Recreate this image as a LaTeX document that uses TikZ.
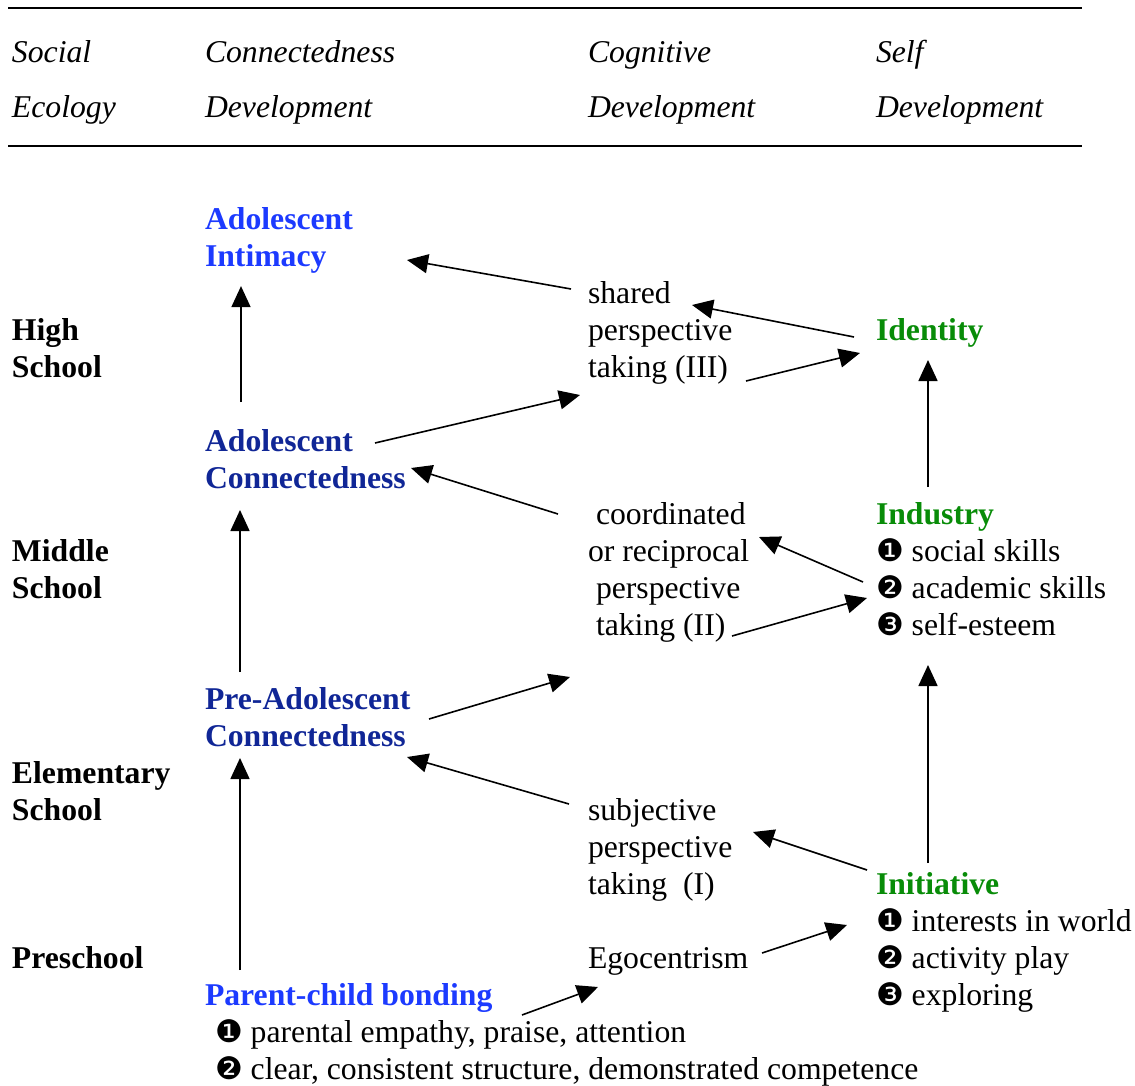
\documentclass[tikz,border=0pt]{standalone}
\usepackage{fontspec}
\setmainfont{Liberation Serif}
\newfontfamily\dingfam{DejaVu Sans}
\usetikzlibrary{calc,arrows.meta}
\definecolor{blueA}{RGB}{28,58,255}
\definecolor{blueB}{RGB}{16,38,150}
\definecolor{greenA}{RGB}{8,140,8}
\newcommand\bul[1]{{\dingfam\fontsize{31}{31}\selectfont #1}}
\tikzset{
  txt/.style={anchor=north west, inner sep=0pt, outer sep=0pt, align=left,
    font=\fontsize{31.7}{37}\selectfont},
  hdr/.style={txt, font=\fontsize{31.7}{37}\selectfont\itshape},
  lvl/.style={txt, font=\fontsize{31.7}{37}\selectfont\bfseries},
  arr/.style={line width=1.6pt, -{Triangle[length=21pt,width=19pt]}},
  rule/.style={line width=1.8pt}
}
\begin{document}
\begin{tikzpicture}[x=1pt,y=-1pt]
\useasboundingbox (0,0) rectangle (1135,1086);
% header
\draw[rule] (8,8) -- (1082,8);
\draw[rule] (8,146) -- (1082,146);
\node[hdr] (h1) at (12,37.1) {\strut Social\\[18pt]\strut Ecology};
\node[hdr] (h2) at (205,37.1) {\strut Connectedness\\[18pt]\strut Development};
\node[hdr] (h3) at (588,37.1) {\strut Cognitive\\[18pt]\strut Development};
\node[hdr] (h4) at (876,37.1) {\strut Self\\[18pt]\strut Development};
% social ecology
\node[lvl] (hs) at (12,314.1) {\strut High\\\strut School};
\node[lvl] (ms) at (12,535.1) {\strut Middle\\\strut School};
\node[lvl] (es) at (12,757.1) {\strut Elementary\\\strut School};
\node[lvl] (ps) at (12,942.1) {\strut Preschool};
% connectedness
\node[lvl, text=blueA] (ai) at (205,203.1) {\strut Adolescent\\\strut Intimacy};
\node[lvl, text=blueB] (ac) at (205,425.1) {\strut Adolescent\\\strut Connectedness};
\node[lvl, text=blueB] (pac) at (205,683.1) {\strut Pre-Adolescent\\\strut Connectedness};
\node[txt] (pcb) at (205,979.1) {\strut\textbf{\color{blueA}Parent-child bonding}\\
  \strut\hspace*{10pt}\bul{❶} parental empathy, praise, attention\\
  \strut\hspace*{10pt}\bul{❷} clear, consistent structure, demonstrated competence};
% cognitive
\node[txt] (sh) at (588,277.1) {\strut shared\\\strut perspective\\\strut taking (III)};
\node[txt] (co) at (588,498.1) {\strut\hspace*{8pt}coordinated\\\strut or reciprocal\\\strut\hspace*{8pt}perspective\\\strut\hspace*{8pt}taking (II)};
\node[txt] (sub) at (588,794.1) {\strut subjective\\\strut perspective\\\strut taking\ \ (I)};
\node[txt] (ego) at (588,942.1) {\strut Egocentrism};
% self
\node[txt] (id) at (876,314.1) {\strut\textbf{\color{greenA}Identity}};
\node[txt] (ind) at (876,498.1) {\strut\textbf{\color{greenA}Industry}\\
  \strut\bul{❶} social skills\\\strut\bul{❷} academic skills\\\strut\bul{❸} self-esteem};
\node[txt] (ini) at (876,868.1) {\strut\textbf{\color{greenA}Initiative}\\
  \strut\bul{❶} interests in world\\\strut\bul{❷} activity play\\\strut\bul{❸} exploring};
% connectors
\draw[arr] ($(ac.north west)+(36,-23)$) -- ($(ai.south west)+(36,9)$);
\draw[arr] ($(sh.north west)+(-17,11.9)$) -- ($(ai.north west)+(202,56.9)$);
\draw[arr] ($(id.north west)+(-22,22.9)$) -- ($(sh.north west)+(104,27.9)$);
\draw[arr] ($(sh.north west)+(158,103.9)$) -- ($(id.north west)+(-16,38.9)$);
\draw[arr] ($(ac.north west)+(170,17.9)$) -- ($(sh.south west)+(-8,6.9)$);
\draw[arr] ($(co.north west)+(-30,15.9)$) -- ($(ac.north west)+(206,42.9)$);
\draw[arr] ($(ind.north west)+(52,-11.1)$) -- ($(id.south west)+(52,8.9)$);
\draw[arr] ($(ind.north west)+(-13,83.9)$) -- ($(co.north west)+(171,38.9)$);
\draw[arr] ($(co.north west)+(144,137.9)$) -- ($(ind.north west)+(-9,99.9)$);
\draw[arr] ($(pac.north west)+(35,-11.1)$) -- ($(ac.south west)+(35,10.9)$);
\draw[arr] ($(pac.north west)+(224,35.9)$) -- ($(co.south west)+(-18,30.9)$);
\draw[arr] ($(sub.north west)+(-19,9.9)$) -- ($(pac.north west)+(202,73.9)$);
\draw[arr] ($(ini.north west)+(52,-5.1)$) -- ($(ind.south west)+(52,18.9)$);
\draw[arr] ($(ini.north west)+(-9,1.9)$) -- ($(sub.north west)+(165,37.9)$);
\draw[arr] ($(ego.north west)+(174,10.9)$) -- ($(ini.north west)+(-29,56.9)$);
\draw[arr] ($(pcb.north west)+(35,-9.1)$) -- ($(pac.south west)+(35,0.9)$);
\draw[arr] ($(pcb.north west)+(317,35.9)$) -- ($(ego.south west)+(10,7.9)$);
\end{tikzpicture}
\end{document}
